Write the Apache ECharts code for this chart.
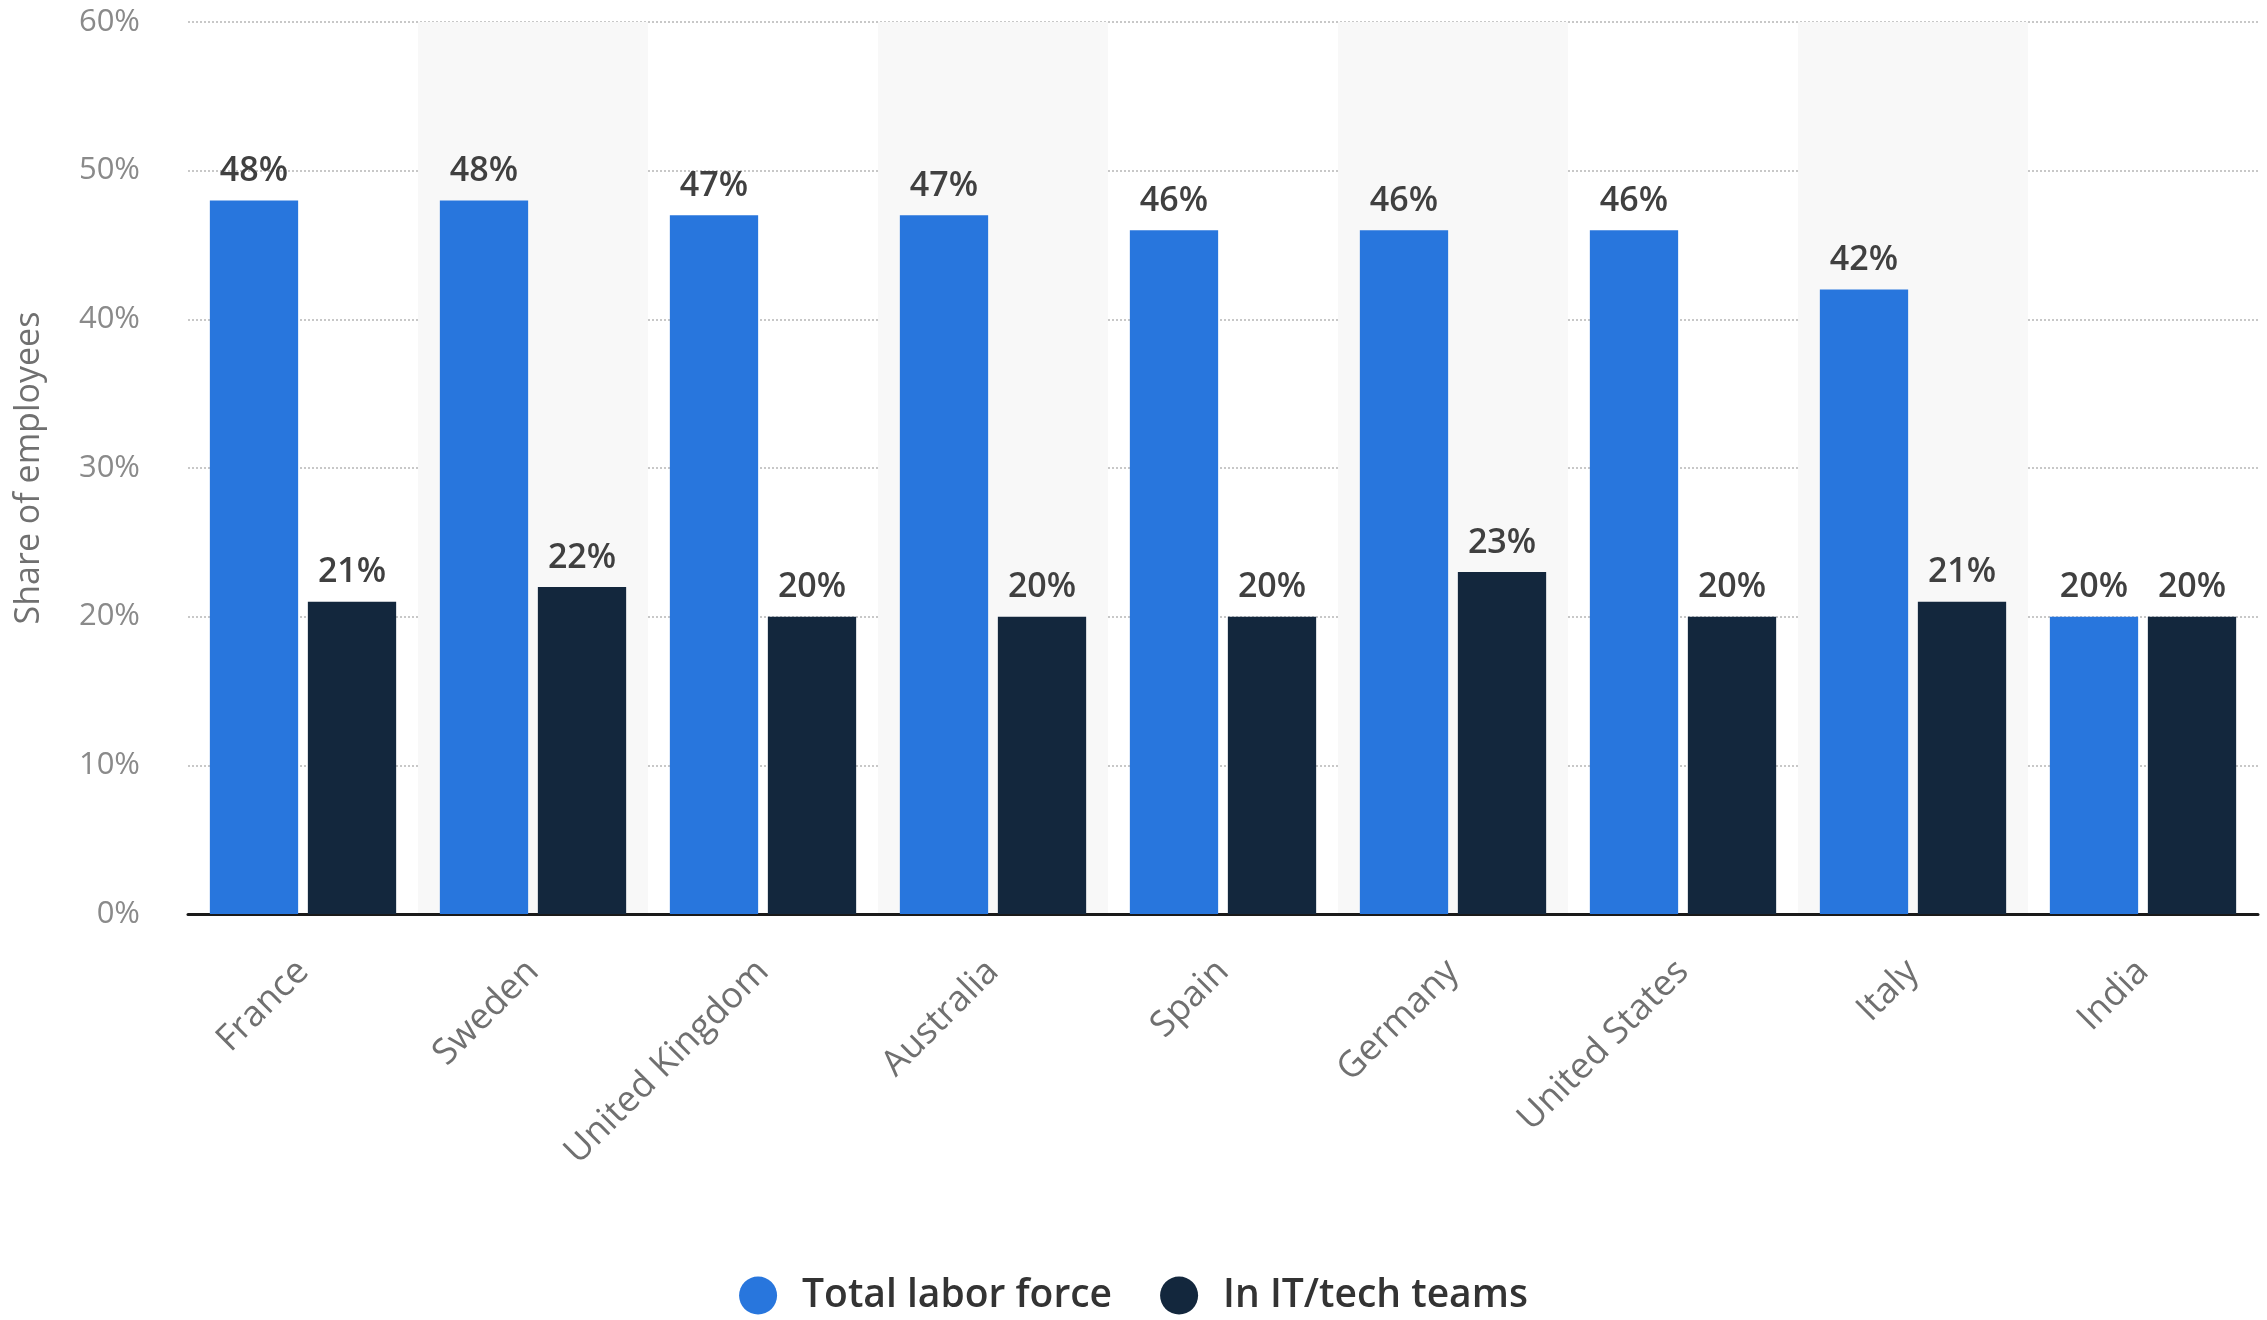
<!DOCTYPE html>
<html>
<head>
<meta charset="utf-8">
<style>
  html, body { margin: 0; padding: 0; background: #fff; }
  #chart { width: 2267px; height: 1320px; }
</style>
<script src="https://cdn.jsdelivr.net/npm/echarts@6/dist/echarts.min.js"></script>
</head>
<body>
<div id="chart"></div>
<script>
// categories and values
const countries = ['France', 'Sweden', 'United Kingdom', 'Australia', 'Spain', 'Germany', 'United States', 'Italy', 'India']
const totalLaborForce = [48, 48, 47, 47, 46, 46, 46, 42, 20]
const itTechTeams = [21, 22, 20, 20, 20, 23, 20, 21, 20]
const seriesNames = ['Total labor force', 'In IT/tech teams']

const font = 'Open Sans'

let chart = echarts.init(document.getElementById('chart'))

let barLabel = {
  show: true,
  position: 'top',
  distance: 12,
  formatter: '{c}%',
  color: '#404040',
  fontFamily: font,
  fontWeight: 600,
  fontSize: 34
}

chart.setOption({
  animation: false,
  textStyle: { fontFamily: font },
  legend: {
    bottom: 0,
    left: 'center',
    icon: 'circle',
    itemWidth: 38,
    itemHeight: 38,
    itemGap: 48,
    textStyle: {
      color: '#333',
      fontSize: 39,
      fontWeight: 600,
      fontFamily: font,
      padding: [0, 0, 0, 20]
    },
    data: seriesNames
  },
  grid: {
    left: 188,
    right: 9,
    top: 22,
    bottom: 406
  },
  xAxis: {
    type: 'category',
    data: countries,
    axisLine: { lineStyle: { color: '#1a1a1a', width: 3 } },
    axisTick: { show: false },
    splitArea: {
      show: true,
      areaStyle: { color: ['rgba(255,255,255,0)', '#f8f8f8'] }
    },
    axisLabel: {
      rotate: 45,
      margin: 52,
      color: '#707070',
      fontSize: 36,
      fontFamily: font
    }
  },
  yAxis: {
    type: 'value',
    min: 0,
    max: 60,
    interval: 10,
    name: 'Share of employees',
    nameLocation: 'middle',
    nameGap: 142,
    nameTextStyle: {
      color: '#707070',
      fontSize: 34,
      fontFamily: font
    },
    axisLine: { show: false },
    axisTick: { show: false },
    axisLabel: {
      formatter: '{value}%',
      margin: 48,
      color: '#8a8a8a',
      fontSize: 31,
      fontFamily: font
    },
    splitLine: {
      lineStyle: { color: '#c8c8c8', type: [2, 2], width: 2 }
    }
  },
  series: [
    {
      name: seriesNames[0],
      type: 'bar',
      data: totalLaborForce,
      barGap: '11%',
      barCategoryGap: '19%',
      itemStyle: { color: '#2876dd' },
      label: barLabel
    },
    {
      name: seriesNames[1],
      type: 'bar',
      data: itTechTeams,
      itemStyle: { color: '#13273d' },
      label: barLabel
    }
  ]
})
</script>
</body>
</html>
